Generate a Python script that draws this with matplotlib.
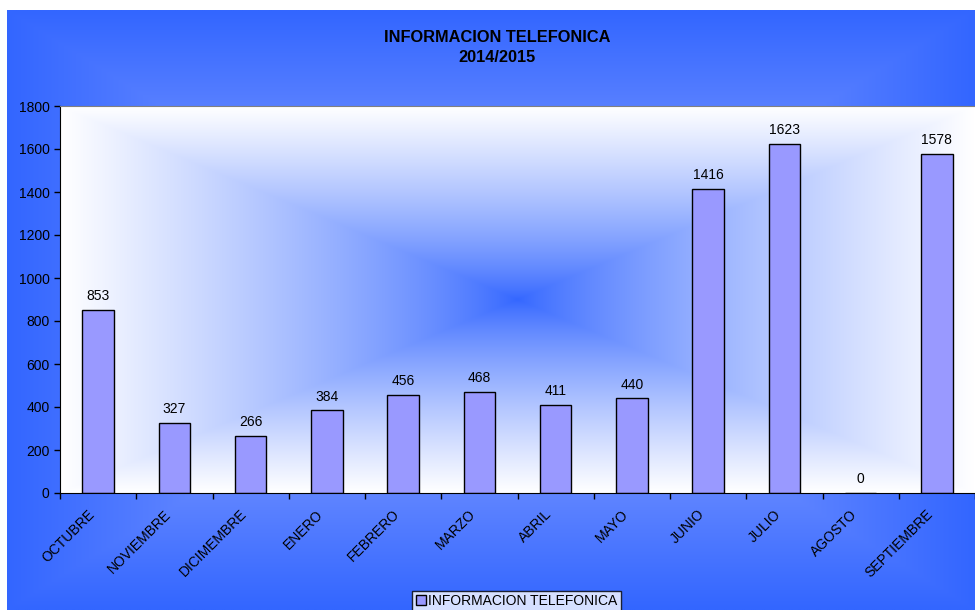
import numpy as np
import matplotlib
matplotlib.use("Agg")
import matplotlib.pyplot as plt
import matplotlib.transforms as mtransforms
from matplotlib.patches import Patch

plt.rcParams['font.family'] = ['Liberation Sans', 'DejaVu Sans']

categories = ["OCTUBRE", "NOVIEMBRE", "DICIMEMBRE", "ENERO", "FEBRERO", "MARZO",
              "ABRIL", "MAYO", "JUNIO", "JULIO", "AGOSTO", "SEPTIEMBRE"]
values = [853, 327, 266, 384, 456, 468, 411, 440, 1416, 1623, 0, 1578]
series_name = "INFORMACION TELEFONICA"
title_lines = ["INFORMACION TELEFONICA", "2014/2015"]

W, H = 975, 610
fig = plt.figure(figsize=(W / 100, H / 100), dpi=100)
fig.patch.set_facecolor('white')

blue = np.array([0x33, 0x66, 0xFF]) / 255.0
white = np.array([1.0, 1.0, 1.0])
light = np.array([0xB0, 0xBC, 0xFF]) / 255.0


def rect_grad(nx, ny, c_center, c_edge, power=1.0):
    gx = np.linspace(-1, 1, nx)
    gy = np.linspace(-1, 1, ny)
    X, Y = np.meshgrid(gx, gy)
    t = np.maximum(np.abs(X), np.abs(Y)) ** power
    return c_center[None, None, :] * (1 - t[..., None]) + c_edge[None, None, :] * t[..., None]

# figure background area
bg = fig.add_axes([7 / W, 0, 1 - 7 / W, (H - 10) / H])
bg.imshow(rect_grad(400, 300, light, blue, 0.9), aspect='auto', extent=[0, 1, 0, 1],
          interpolation='bilinear')
bg.set_axis_off()

# plot area
left, right, top, bottom = 60, 975, 106, 493
ax = fig.add_axes([left / W, 1 - bottom / H, (right - left) / W, (bottom - top) / H])
ax.set_zorder(2)
ax.imshow(rect_grad(400, 300, blue, white, 0.8), aspect='auto',
          extent=[-0.5, 11.5, 0, 1800], interpolation='bilinear', zorder=0)

x = np.arange(len(categories))
ax.bar(x, values, width=0.41, color='#9999FF', edgecolor='black', linewidth=1.0, zorder=2)
for xi, v in zip(x, values):
    ax.text(xi, v + 32, str(v), ha='center', va='bottom', fontsize=10, color='black', zorder=3)

ax.set_xlim(-0.5, 11.5)
ax.set_ylim(0, 1800)
ax.set_yticks(np.arange(0, 1801, 200))
ax.tick_params(axis='y', direction='out', length=4, labelsize=10, width=1)
ax.set_xticks(np.arange(-0.5, 11.6, 1.0))
ax.set_xticklabels([])
ax.tick_params(axis='x', direction='out', length=4, width=1)

base = mtransforms.blended_transform_factory(ax.transData, ax.transAxes)
off = mtransforms.ScaledTranslation(-6 / 100, -19 / 100, fig.dpi_scale_trans)
for xi, lab in zip(x, categories):
    ax.text(xi, 0, lab, transform=base + off, ha='right', va='center', rotation=45,
            rotation_mode='anchor', fontsize=10, clip_on=False)

ax.spines['top'].set_color('#808080')
ax.spines['right'].set_visible(False)
ax.spines['left'].set_color('black')
ax.spines['bottom'].set_color('black')

fig.text(0.510, 1 - 38 / H, title_lines[0], ha='center', va='center',
         fontsize=11.8, fontweight='bold')
fig.text(0.510, 1 - 58 / H, title_lines[1], ha='center', va='center',
         fontsize=11.8, fontweight='bold')

leg = fig.legend(handles=[Patch(facecolor='#9999FF', edgecolor='black', label=series_name)],
                 loc='lower center', bbox_to_anchor=(0.530, -0.014), frameon=True,
                 fontsize=10, handlelength=0.7, handleheight=0.7, handletextpad=0.2,
                 borderpad=0.25, fancybox=False, edgecolor='black')
leg.get_frame().set_linewidth(1.0)

fig.savefig("out.png", dpi=100)
